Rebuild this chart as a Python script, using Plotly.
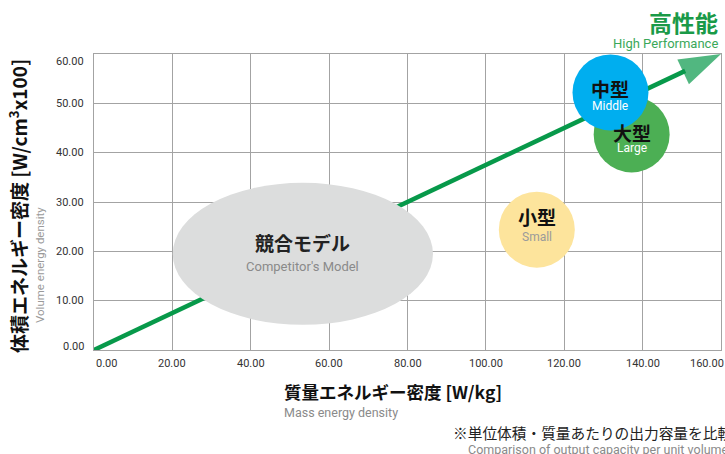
import plotly.graph_objects as go

# ---------------- data ----------------
x_ticks = [0, 20, 40, 60, 80, 100, 120, 140, 160]
x_tick_labels = ["0.00", "20.00", "40.00", "60.00", "80.00", "100.00", "120.00", "140.00", "160.00"]
y_ticks = [0, 10, 20, 30, 40, 50, 60]
y_tick_labels = ["0.00", "10.00", "20.00", "30.00", "40.00", "50.00", "60.00"]

arrow_x = [0, 160]
arrow_y = [0, 60]

competitor_x_range = [20.1, 86.5]
competitor_y_range = [5.1, 33.9]
competitor_center = [53.3, 19.5]
competitor_name = "競合モデル"
competitor_sub = "Competitor's Model"

class_names = ["小型", "大型", "中型"]
class_subs = ["Small", "Large", "Middle"]
class_x = [113.0, 137.2, 131.8]
class_y = [24.4, 43.7, 52.2]

# ---------------- styles ----------------
W, H = 725, 454
L, R, T, B = 94, 4, 54, 104
PW, PH = W - L - R, H - T - B

GREEN = "#07994a"
GRID = "#a3a3a3"
JP = "Noto Sans CJK JP"
EN = "Roboto"
class_colors = ["#fde49c", "#4caf54", "#00aeef"]
class_sub_colors = ["#9a9a9a", "#ffffff", "#ffffff"]
name_shift = [13, 2, 4]
sub_shift = [-7, -14, -14]


def px(xp):
    return (xp - L) / PW


def py(yp):
    return (H - B - yp) / PH


fig = go.Figure()

# arrow (line + arrow-head marker)
fig.add_trace(go.Scatter(
    x=arrow_x, y=arrow_y, mode="lines+markers",
    line=dict(color=GREEN, width=4.5),
    marker=dict(symbol="arrow", angleref="previous", size=[0, 44], color=GREEN,
                line=dict(width=0)),
    cliponaxis=False, showlegend=False, hoverinfo="skip",
))

# class circles
fig.add_trace(go.Scatter(
    x=class_x, y=class_y, mode="markers",
    marker=dict(size=76, color=class_colors, opacity=1, line=dict(width=0)),
    cliponaxis=False, showlegend=False, hoverinfo="skip",
))

# competitor ellipse
fig.add_shape(type="circle", xref="x", yref="y",
              x0=competitor_x_range[0], x1=competitor_x_range[1],
              y0=competitor_y_range[0], y1=competitor_y_range[1],
              fillcolor="#dcdddd", line=dict(width=0), layer="above")

ann = []
# tick labels
for i, (v, t) in enumerate(zip(x_ticks, x_tick_labels)):
    xa = "left" if i == 0 else ("right" if i == len(x_ticks) - 1 else "center")
    xs = 0 if i == 0 else (5 if i == len(x_ticks) - 1 else 0)
    ann.append(dict(x=v, y=0, xref="x", yref="paper", text=t, showarrow=False,
                    xanchor=xa, yanchor="top", yshift=-5, xshift=xs,
                    font=dict(family=EN, size=11, color="#333")))
for i, (v, t) in enumerate(zip(y_ticks, y_tick_labels)):
    ya = "middle"
    ys = 0
    if i == 0:
        ys = 4
    elif i == len(y_ticks) - 1:
        ya = "top"
        ys = 1
    ann.append(dict(x=0, y=v, xref="paper", yref="y", text=t, showarrow=False,
                    xanchor="right", yanchor=ya, xshift=-8, yshift=ys,
                    font=dict(family=EN, size=11, color="#333")))

# competitor text
ann.append(dict(x=competitor_center[0], y=competitor_center[1], xref="x", yref="y",
                text="<b>" + competitor_name + "</b>", showarrow=False, yshift=11,
                font=dict(family=JP, size=19, color="#222")))
ann.append(dict(x=competitor_center[0], y=competitor_center[1], xref="x", yref="y",
                text=competitor_sub, showarrow=False, yshift=-13,
                font=dict(family=EN, size=13, color="#8a8a8a")))

# class text
for n, s, cx, cy, sc, ns, ss in zip(class_names, class_subs, class_x, class_y,
                                    class_sub_colors, name_shift, sub_shift):
    ann.append(dict(x=cx, y=cy, xref="x", yref="y", text="<b>" + n + "</b>",
                    showarrow=False, yshift=ns, font=dict(family=JP, size=19, color="#111")))
    ann.append(dict(x=cx, y=cy, xref="x", yref="y", text=s,
                    showarrow=False, yshift=ss, font=dict(family=EN, size=12, color=sc)))

# top right
ann.append(dict(x=px(720), y=py(22), xref="paper", yref="paper", text="<b>高性能</b>",
                showarrow=False, xanchor="right", yanchor="middle",
                font=dict(family=JP, size=23, color="#1a9a48")))
ann.append(dict(x=px(720), y=py(43), xref="paper", yref="paper", text="High Performance",
                showarrow=False, xanchor="right", yanchor="middle",
                font=dict(family=EN, size=13, color="#3aa85a")))

# axis titles
ann.append(dict(x=px(18), y=py(206), xref="paper", yref="paper",
                text="<b>体積エネルギー密度 [W/cm<sup>3</sup>x100]</b>", textangle=-90,
                showarrow=False, xanchor="center", yanchor="middle",
                font=dict(family=JP, size=19, color="#111")))
ann.append(dict(x=px(40), y=py(265), xref="paper", yref="paper",
                text="Volume energy density", textangle=-90,
                showarrow=False, xanchor="center", yanchor="middle",
                font=dict(family=EN, size=11.5, color="#9a9a9a")))
ann.append(dict(x=px(282), y=py(391), xref="paper", yref="paper",
                text="<b>質量エネルギー密度 [W/kg]</b>",
                showarrow=False, xanchor="left", yanchor="middle",
                font=dict(family=JP, size=17.5, color="#111")))
ann.append(dict(x=px(282), y=py(412), xref="paper", yref="paper",
                text="Mass energy density",
                showarrow=False, xanchor="left", yanchor="middle",
                font=dict(family=EN, size=12.5, color="#8a8a8a")))

# footnote
ann.append(dict(x=px(451), y=py(432), xref="paper", yref="paper",
                text="※単位体積・質量あたりの出力容量を比較",
                showarrow=False, xanchor="left", yanchor="middle",
                font=dict(family=JP, size=14.7, color="#222")))
ann.append(dict(x=px(466), y=py(449), xref="paper", yref="paper",
                text="Comparison of output capacity per unit volume",
                showarrow=False, xanchor="left", yanchor="middle",
                font=dict(family=EN, size=12.5, color="#8a8a8a")))

fig.update_layout(
    width=W, height=H,
    margin=dict(l=L, r=R, t=T, b=B, pad=0),
    paper_bgcolor="white", plot_bgcolor="white",
    showlegend=False, hovermode=False,
    annotations=ann,
    xaxis=dict(range=[0, 160], tickvals=x_ticks, showticklabels=False, ticks="",
               showgrid=True, gridcolor=GRID, gridwidth=1, zeroline=False,
               showline=True, mirror=True, linecolor=GRID, linewidth=1, fixedrange=True),
    yaxis=dict(range=[0, 60], tickvals=y_ticks, showticklabels=False, ticks="",
               showgrid=True, gridcolor=GRID, gridwidth=1, zeroline=False,
               showline=True, mirror=True, linecolor=GRID, linewidth=1, fixedrange=True),
)

fig.write_html("out.html", config=dict(displayModeBar=False),
               post_script="document.body.style.margin='0';document.body.style.overflow='hidden';")
